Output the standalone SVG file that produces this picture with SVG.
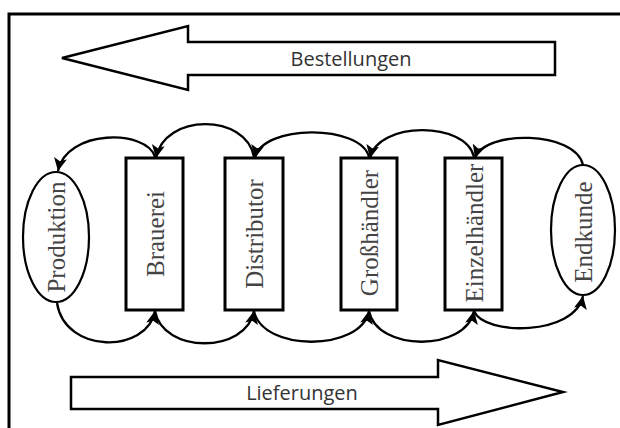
<svg xmlns="http://www.w3.org/2000/svg" width="620" height="428" viewBox="0 0 620 428">
<style>
.frame{fill:none;stroke:#000;stroke-width:3}
.big{fill:#fff;stroke:#000;stroke-width:2.5;stroke-linejoin:miter}
.box{fill:#fff;stroke:#000;stroke-width:3}
.oval{fill:#fff;stroke:#000;stroke-width:2.2}
.lbl{font-family:"Liberation Serif",serif;font-size:25px;fill:#444;text-anchor:middle;dominant-baseline:central}
.flow{font-family:"Open Sans","DejaVu Sans",sans-serif;font-size:20px;fill:#333;text-anchor:middle}
.arc{fill:none;stroke:#000;stroke-width:2.3}
</style>
<defs>
<marker id="ah" markerUnits="userSpaceOnUse" markerWidth="15" markerHeight="13" refX="13" refY="6.5" orient="auto">
<path d="M0,0 L13,6.5 L0,13 L3,6.5 Z" fill="#000"/>
</marker>
</defs>
<rect x="0" y="0" width="620" height="428" fill="#fff"/>
<rect class="frame" x="9" y="14" width="700" height="500"/>
<g id="bestellungen">
<path class="big" d="M555,42 L188,42 L188,26 L62,58 L188,90 L188,75 L555,75 Z"/>
<text class="flow" x="351" y="66">Bestellungen</text>
</g>
<g id="lieferungen">
<path class="big" d="M71,377 L438,377 L438,360 L563,392 L438,425 L438,409 L71,409 Z"/>
<text class="flow" x="302" y="400">Lieferungen</text>
</g>
<g id="connectors">
<path class="arc" marker-end="url(#ah)" d="M583,165 C575,130 484,130 475,158"/>
<path class="arc" marker-end="url(#ah)" d="M474,157 C466,121 378,121 370,158"/>
<path class="arc" marker-end="url(#ah)" d="M369,157 C361,124 262,124 255,158"/>
<path class="arc" marker-end="url(#ah)" d="M254,157 C246,113 164,113 156,158"/>
<path class="arc" marker-end="url(#ah)" d="M155,157 C147,129 66,129 58,171"/>
<path class="arc" d="M57,303 C65,354 147,354 155,311" marker-end="url(#ah)"/>
<path class="arc" d="M155,311 C163,354 246,354 254,311" marker-end="url(#ah)"/>
<path class="arc" d="M254,311 C262,352 361,352 369,311" marker-end="url(#ah)"/>
<path class="arc" d="M369,311 C377,352 466,352 474,311" marker-end="url(#ah)"/>
<path class="arc" d="M474,311 C484,336 575,336 583,296" marker-end="url(#ah)"/>
</g>
<g id="produktion">
<ellipse class="oval" cx="56" cy="237" rx="33" ry="65"/>
<text class="lbl" transform="translate(56,237) rotate(-90)">Produktion</text>
</g>
<g id="brauerei">
<rect class="box" x="126" y="158" width="57" height="152"/>
<text class="lbl" transform="translate(155,234) rotate(-90)">Brauerei</text>
</g>
<g id="distributor">
<rect class="box" x="225" y="158" width="58" height="152"/>
<text class="lbl" transform="translate(254,234) rotate(-90)">Distributor</text>
</g>
<g id="grosshaendler">
<rect class="box" x="341" y="158" width="56" height="152"/>
<text class="lbl" transform="translate(369,233) rotate(-90)">Großhändler</text>
</g>
<g id="einzelhaendler">
<rect class="box" x="445" y="158" width="57" height="152"/>
<text class="lbl" transform="translate(474,233) rotate(-90)">Einzelhändler</text>
</g>
<g id="endkunde">
<ellipse class="oval" cx="583" cy="230" rx="32" ry="65"/>
<text class="lbl" transform="translate(583,232) rotate(-90)">Endkunde</text>
</g>
</svg>
